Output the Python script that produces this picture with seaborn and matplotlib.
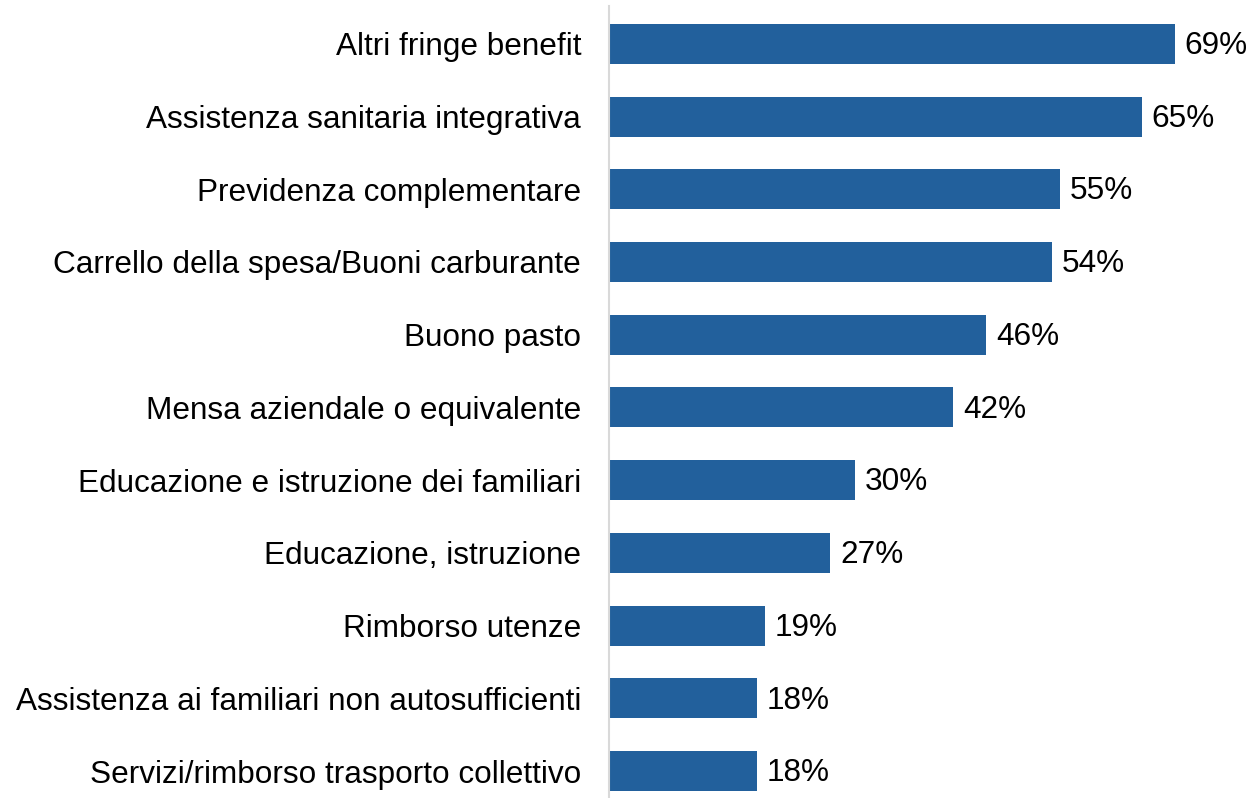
import pandas as pd
import matplotlib
matplotlib.use('Agg')
import matplotlib.pyplot as plt
import seaborn as sns

# Data
categories = [
    'Altri fringe benefit',
    'Assistenza sanitaria integrativa',
    'Previdenza complementare',
    'Carrello della spesa/Buoni carburante',
    'Buono pasto',
    'Mensa aziendale o equivalente',
    'Educazione e istruzione dei familiari',
    'Educazione, istruzione',
    'Rimborso utenze',
    'Assistenza ai familiari non autosufficienti',
    'Servizi/rimborso trasporto collettivo',
]
values = [69, 65, 55, 54, 46, 42, 30, 27, 19, 18, 18]

df = pd.DataFrame({'benefit': categories, 'pct': values})

sns.set_theme(style='white')
plt.rcParams['font.family'] = ['Liberation Sans', 'DejaVu Sans']

fig = plt.figure(figsize=(12.53, 7.98), dpi=100)
ax = fig.add_axes([609 / 1253, 0, 1 - 609 / 1253, 1 - 6 / 798])

sns.barplot(data=df, x='pct', y='benefit', color='#22609C', width=0.55,
            saturation=1, linewidth=0, ax=ax)

for i, v in enumerate(values):
    ax.text(v + 1.2, i + 0.03, f'{v}%', va='center', ha='left', fontsize=22.7,
            color='black')

ax.set_xlim(0, (1253 - 609) / 8.2)
ax.set_ylim(10.37, -0.52)
ax.set_xlabel('')
ax.set_ylabel('')
ax.set_xticks([])
ax.tick_params(axis='y', length=0, pad=20, labelsize=22.7, labelcolor='black')
for s in ['top', 'right', 'bottom']:
    ax.spines[s].set_visible(False)
ax.spines['left'].set_color('#D9D9D9')
ax.spines['left'].set_linewidth(1.5)

fig.savefig('out.png', dpi=100)
